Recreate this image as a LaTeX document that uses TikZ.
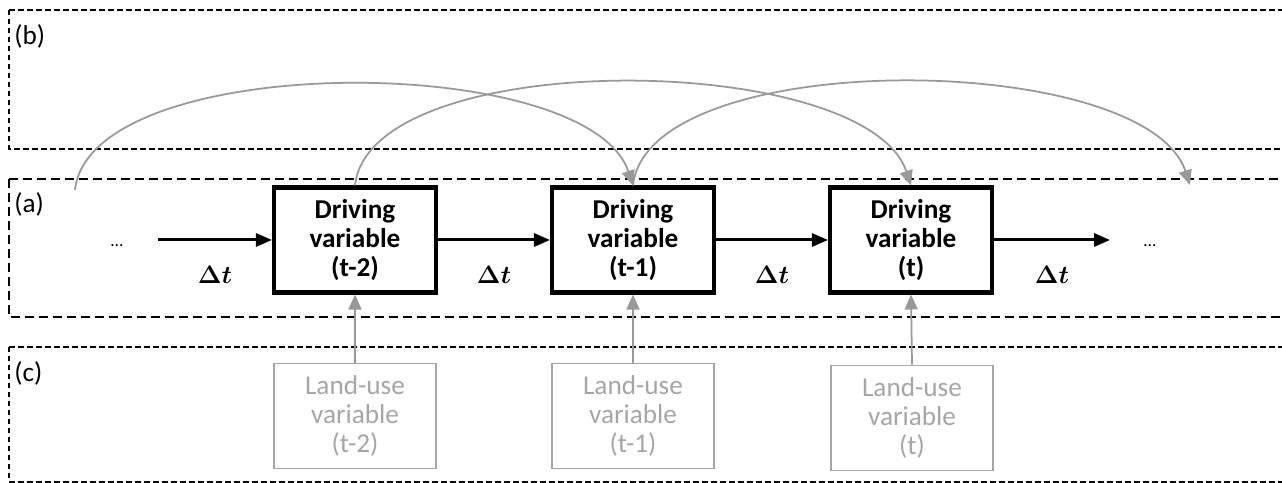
\documentclass[tikz,border=0pt]{standalone}
\usepackage{amsmath, amssymb}
\usepackage{bm}
\usepackage{fontspec}
\setmainfont{Carlito}
\usepackage{tikz}
\usetikzlibrary{arrows.meta, positioning, calc}
\usepackage{xcolor}

\definecolor{lugray}{HTML}{A6A6A6}
\definecolor{curvegray}{HTML}{999999}

\tikzset{
  drivebox/.style={draw, line width=2.3pt, minimum width=32.4mm, minimum height=21mm,
                   align=center, font=\fontsize{15.5}{16.5}\selectfont\bfseries, inner sep=0pt},
  landbox/.style={draw=lugray, line width=1pt, minimum width=32.4mm, minimum height=21mm,
                  align=center, text=lugray, font=\fontsize{15.5}{16.5}\selectfont, inner sep=0pt},
  steparrow/.style={line width=1.7pt, -{Triangle[length=3.2mm, width=2.6mm]}},
  feedarrow/.style={draw=curvegray, line width=1pt, -{Triangle[length=3mm, width=2.6mm]}},
  lagcurve/.style={draw=curvegray, line width=1pt, -{Triangle[length=3mm, width=2.6mm]}},
  zonethin/.style={line width=0.6pt, dash pattern=on 1.1mm off 0.7mm},
  zonethick/.style={line width=1.1pt, dash pattern=on 1.8mm off 1mm},
  zonelabel/.style={anchor=north west, inner sep=0pt, font=\fontsize{15.5}{16}\selectfont},
  dtlabel/.style={font=\fontsize{15}{16}\selectfont, inner sep=0pt}
}

\begin{document}
\begin{tikzpicture}[x=0.2mm, y=0.2mm]
  \useasboundingbox (0,0) rectangle (1282,483);
  \clip (0,0) rectangle (1282,483);

  % zones (b), (a), (c)
  \draw[zonethin]  (9,473) -- (1290,473) (9,473) -- (9,334) -- (1290,334);
  \draw[zonethick] (9,304) -- (1290,304) (9,304) -- (9,166) -- (1290,166);
  \draw[zonethin]  (9,136) -- (1290,136) (9,136) -- (9,1) -- (1290,1);
  \node[zonelabel] (lblb) at (14,459) {(b)};
  \node[zonelabel] (lbla) at (14,291) {(a)};
  \node[zonelabel] (lblc) at (14,122) {(c)};

  % driving variables
  \node[drivebox] (drv2) at (355,243) {Driving\\variable\\(t-2)};
  \node[drivebox] (drv1) at (633,243) {Driving\\variable\\(t-1)};
  \node[drivebox] (drv0) at (911,243) {Driving\\variable\\(t)};

  % land-use variables
  \node[landbox] (lu2) at (355,67) {Land-use\\variable\\(t-2)};
  \node[landbox] (lu1) at (633,67) {Land-use\\variable\\(t-1)};
  \node[landbox] (lu0) at (912,65) {Land-use\\variable\\(t)};

  % open ends of the chain
  \node (dotsl) at (117,237) {\dots};
  \node (dotsr) at (1150,237) {\dots};
  \coordinate (chainin) at (158,243);
  \coordinate (chainout) at (1110,243);

  \draw[steparrow] (chainin) -- (drv2.west)
    node[dtlabel, midway, below=5mm] {$\bm{\Delta t}$};
  \draw[steparrow] (drv2.east) -- (drv1.west)
    node[dtlabel, midway, below=5mm] {$\bm{\Delta t}$};
  \draw[steparrow] (drv1.east) -- (drv0.west)
    node[dtlabel, midway, below=5mm] {$\bm{\Delta t}$};
  \draw[steparrow] (drv0.east) -- (chainout)
    node[dtlabel, midway, below=5mm] {$\bm{\Delta t}$};

  % land use feeds each time step
  \foreach \i in {2,1,0}
    \draw[feedarrow] (lu\i.north) -- (drv\i.south);

  % lagged links over two steps
  \coordinate (lagin) at (75,293);
  \coordinate (lagout) at (1190,298);
  \draw[lagcurve] (lagin) .. controls +(15,140) and +(-45,135) .. (drv1.north);
  \draw[lagcurve] (drv2.north) .. controls +(15,140) and +(-45,135) .. (drv0.north);
  \draw[lagcurve] (drv1.north) .. controls +(15,140) and +(-45,135) .. (lagout);
\end{tikzpicture}
\end{document}
